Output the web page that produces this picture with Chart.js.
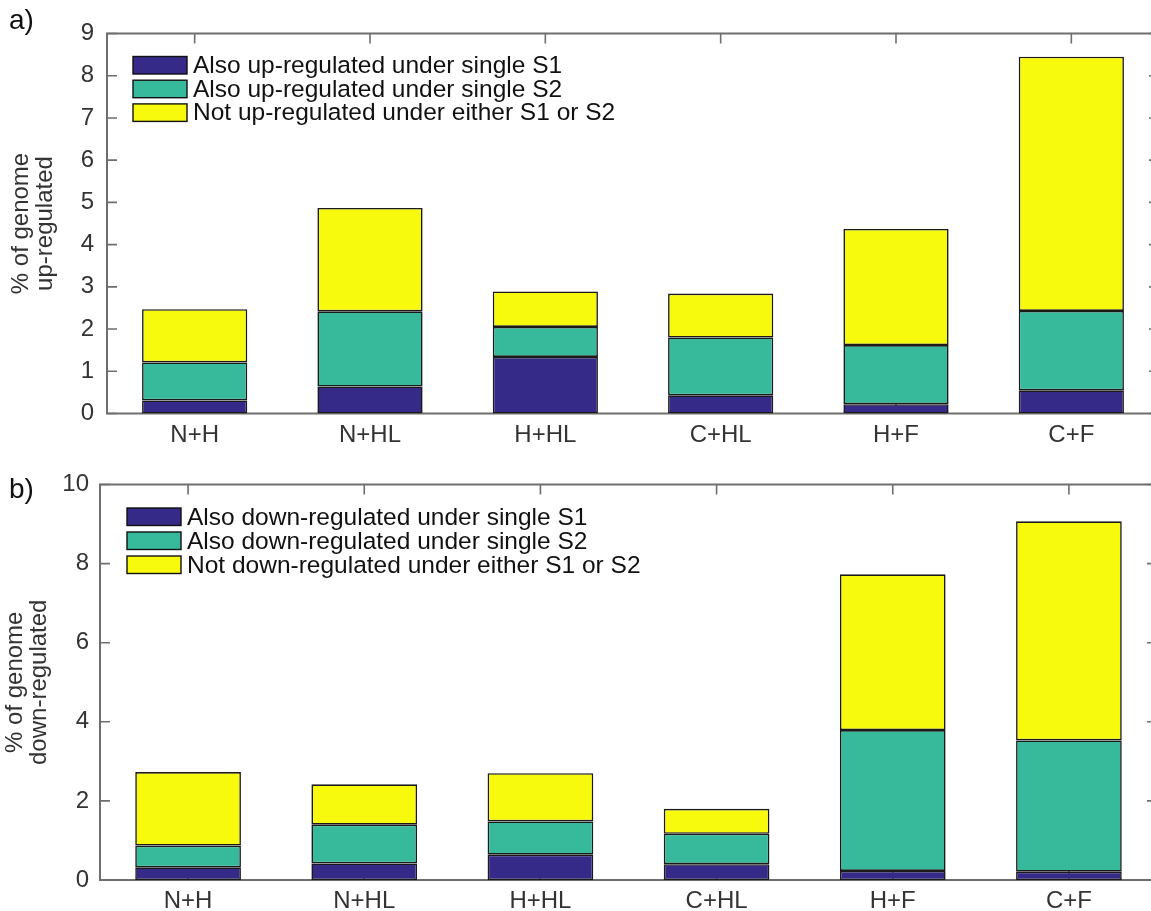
<!DOCTYPE html>
<html>
<head>
<meta charset="utf-8">
<title>Genes regulated under combined stresses</title>
<script src="https://cdn.jsdelivr.net/npm/chart.js@4.4.1/dist/chart.umd.min.js"></script>
<style>
  html, body { margin: 0; padding: 0; background: #fff; overflow: hidden; width: 1151px; height: 911px; }
  canvas { position: absolute; left: 0; display: block; }
</style>
</head>
<body>
<canvas id="upChart" width="1170" height="455" style="top:0"></canvas>
<canvas id="downChart" width="1170" height="456" style="top:455px"></canvas>
<script>
// Stress combinations on the x axis
const categories = ['N+H', 'N+HL', 'H+HL', 'C+HL', 'H+F', 'C+F'];

// a) % of genome up-regulated, split by overlap with the single stresses
const upAlsoS1 = [0.31, 0.64, 1.34, 0.43, 0.22, 0.55];
const upAlsoS2 = [0.90, 1.78, 0.71, 1.37, 1.40, 1.88];
const upNeither = [1.26, 2.45, 0.84, 1.04, 2.75, 6.02];
const upLabels = ['Also up-regulated under single S1', 'Also up-regulated under single S2', 'Not up-regulated under either S1 or S2'];
const upTicks = [0, 1, 2, 3, 4, 5, 6, 7, 8, 9];

// b) % of genome down-regulated
const downAlsoS1 = [0.32, 0.42, 0.64, 0.40, 0.23, 0.21];
const downAlsoS2 = [0.55, 0.98, 0.84, 0.77, 3.56, 3.32];
const downNeither = [1.86, 1.02, 1.22, 0.63, 3.94, 5.54];
const downLabels = ['Also down-regulated under single S1', 'Also down-regulated under single S2', 'Not down-regulated under either S1 or S2'];
const downTicks = [0, 2, 4, 6, 8, 10];

const COLORS = ['#352A87', '#37B99C', '#F8FA0E'];
const FONT = "'Liberation Sans', Arial, Helvetica, sans-serif";
const AXIS_COLOR = '#6e6e6e';
const FS = 24;
const LEGEND_FS = 24.5;

// Box frame with inward ticks on all four sides, legend, axis title and panel letter
const decorPlugin = {
  id: 'decor',
  beforeDatasetsDraw(chart, args, opts) {
    const ctx = chart.ctx;
    const { left, right, top, bottom } = chart.chartArea;
    const xs = chart.scales.x, ys = chart.scales.y;
    const tl = 10;
    ctx.save();
    ctx.strokeStyle = AXIS_COLOR;
    ctx.lineWidth = 1.6;
    ctx.beginPath();
    ys.ticks.forEach(t => {
      const y = ys.getPixelForValue(t.value);
      ctx.moveTo(left, y); ctx.lineTo(left + tl, y);
      ctx.moveTo(right, y); ctx.lineTo(right - tl, y);
    });
    categories.forEach((c, i) => {
      const x = xs.getPixelForValue(i);
      ctx.moveTo(x, top); ctx.lineTo(x, top + tl);
      ctx.moveTo(x, bottom); ctx.lineTo(x, bottom - tl);
    });
    ctx.stroke();
    ctx.lineWidth = 2;
    ctx.strokeRect(left, top, right - left, bottom - top);
    ctx.restore();
  },
  afterDraw(chart, args, opts) {
    const ctx = chart.ctx;
    const { top, bottom } = chart.chartArea;
    ctx.save();
    // legend
    ctx.font = `${LEGEND_FS}px ${FONT}`;
    ctx.textBaseline = 'alphabetic';
    ctx.textAlign = 'left';
    chart.data.datasets.forEach((ds, i) => {
      const bx = opts.legendX, by = opts.legendY + i * opts.legendStep;
      ctx.fillStyle = ds.backgroundColor;
      ctx.fillRect(bx, by, 54, 17.5);
      ctx.strokeStyle = '#111';
      ctx.lineWidth = 1.4;
      ctx.strokeRect(bx, by, 54, 17.5);
      ctx.fillStyle = '#111';
      ctx.fillText(ds.label, bx + 60, by + 16.5);
    });
    // y axis title, two rotated lines
    ctx.fillStyle = '#333';
    ctx.font = `${FS}px ${FONT}`;
    ctx.textAlign = 'center';
    ctx.textBaseline = 'middle';
    const cy = (top + bottom) / 2;
    opts.yTitle.forEach((line, i) => {
      ctx.save();
      ctx.translate(opts.yTitleX + i * 24.5, cy);
      ctx.rotate(-Math.PI / 2);
      ctx.fillText(line, 0, 0);
      ctx.restore();
    });
    // panel letter
    ctx.font = `28px ${FONT}`;
    ctx.textAlign = 'left';
    ctx.textBaseline = 'middle';
    ctx.fillStyle = '#111';
    ctx.fillText(opts.letter, 9, opts.letterY);
    ctx.restore();
  }
};

function makePanel(id, vals, labels, ticks, yMax, g) {
  const canvas = document.getElementById(id);
  const W = canvas.width, H = canvas.height;
  return new Chart(canvas, {
    type: 'bar',
    data: {
      labels: categories,
      datasets: vals.map((v, i) => ({
        label: labels[i],
        data: v,
        backgroundColor: COLORS[i],
        borderColor: '#1a1a1a',
        borderWidth: 1.6,
        borderSkipped: false,
        barPercentage: 0.6,
        categoryPercentage: 1.0
      }))
    },
    options: {
      responsive: false,
      animation: false,
      events: [],
      layout: { padding: { left: 0, top: g.top, right: W - g.right, bottom: 0 } },
      plugins: {
        legend: { display: false },
        tooltip: { enabled: false },
        decor: g.decor
      },
      scales: {
        x: {
          stacked: true,
          grid: { display: false, drawTicks: false },
          border: { display: false },
          ticks: { color: '#333', font: { family: FONT, size: FS }, padding: 7, maxRotation: 0 },
          afterFit(s) { s.height = H - g.bottom; }
        },
        y: {
          stacked: true,
          min: 0, max: yMax,
          grid: { display: false, drawTicks: false },
          border: { display: false },
          afterBuildTicks(s) { s.ticks = ticks.map(v => ({ value: v })); },
          ticks: { color: '#333', font: { family: FONT, size: FS }, padding: g.tickPad },
          afterFit(s) { s.width = g.left; }
        }
      }
    },
    plugins: [decorPlugin]
  });
}

makePanel('upChart', [upAlsoS1, upAlsoS2, upNeither], upLabels, upTicks, 9, {
  left: 107, right: 1159, top: 33.5, bottom: 413.5, tickPad: 13,
  decor: { legendX: 133, legendY: 56.5, legendStep: 23.7,
           yTitle: ['% of genome', 'up-regulated'], yTitleX: 21, letter: 'a)', letterY: 21 }
});

makePanel('downChart', [downAlsoS1, downAlsoS2, downNeither], downLabels, downTicks, 10, {
  left: 100, right: 1157, top: 29.5, bottom: 425, tickPad: 11,
  decor: { legendX: 127, legendY: 53, legendStep: 24,
           yTitle: ['% of genome', 'down-regulated'], yTitleX: 15, letter: 'b)', letterY: 35 }
});
</script>
</body>
</html>
